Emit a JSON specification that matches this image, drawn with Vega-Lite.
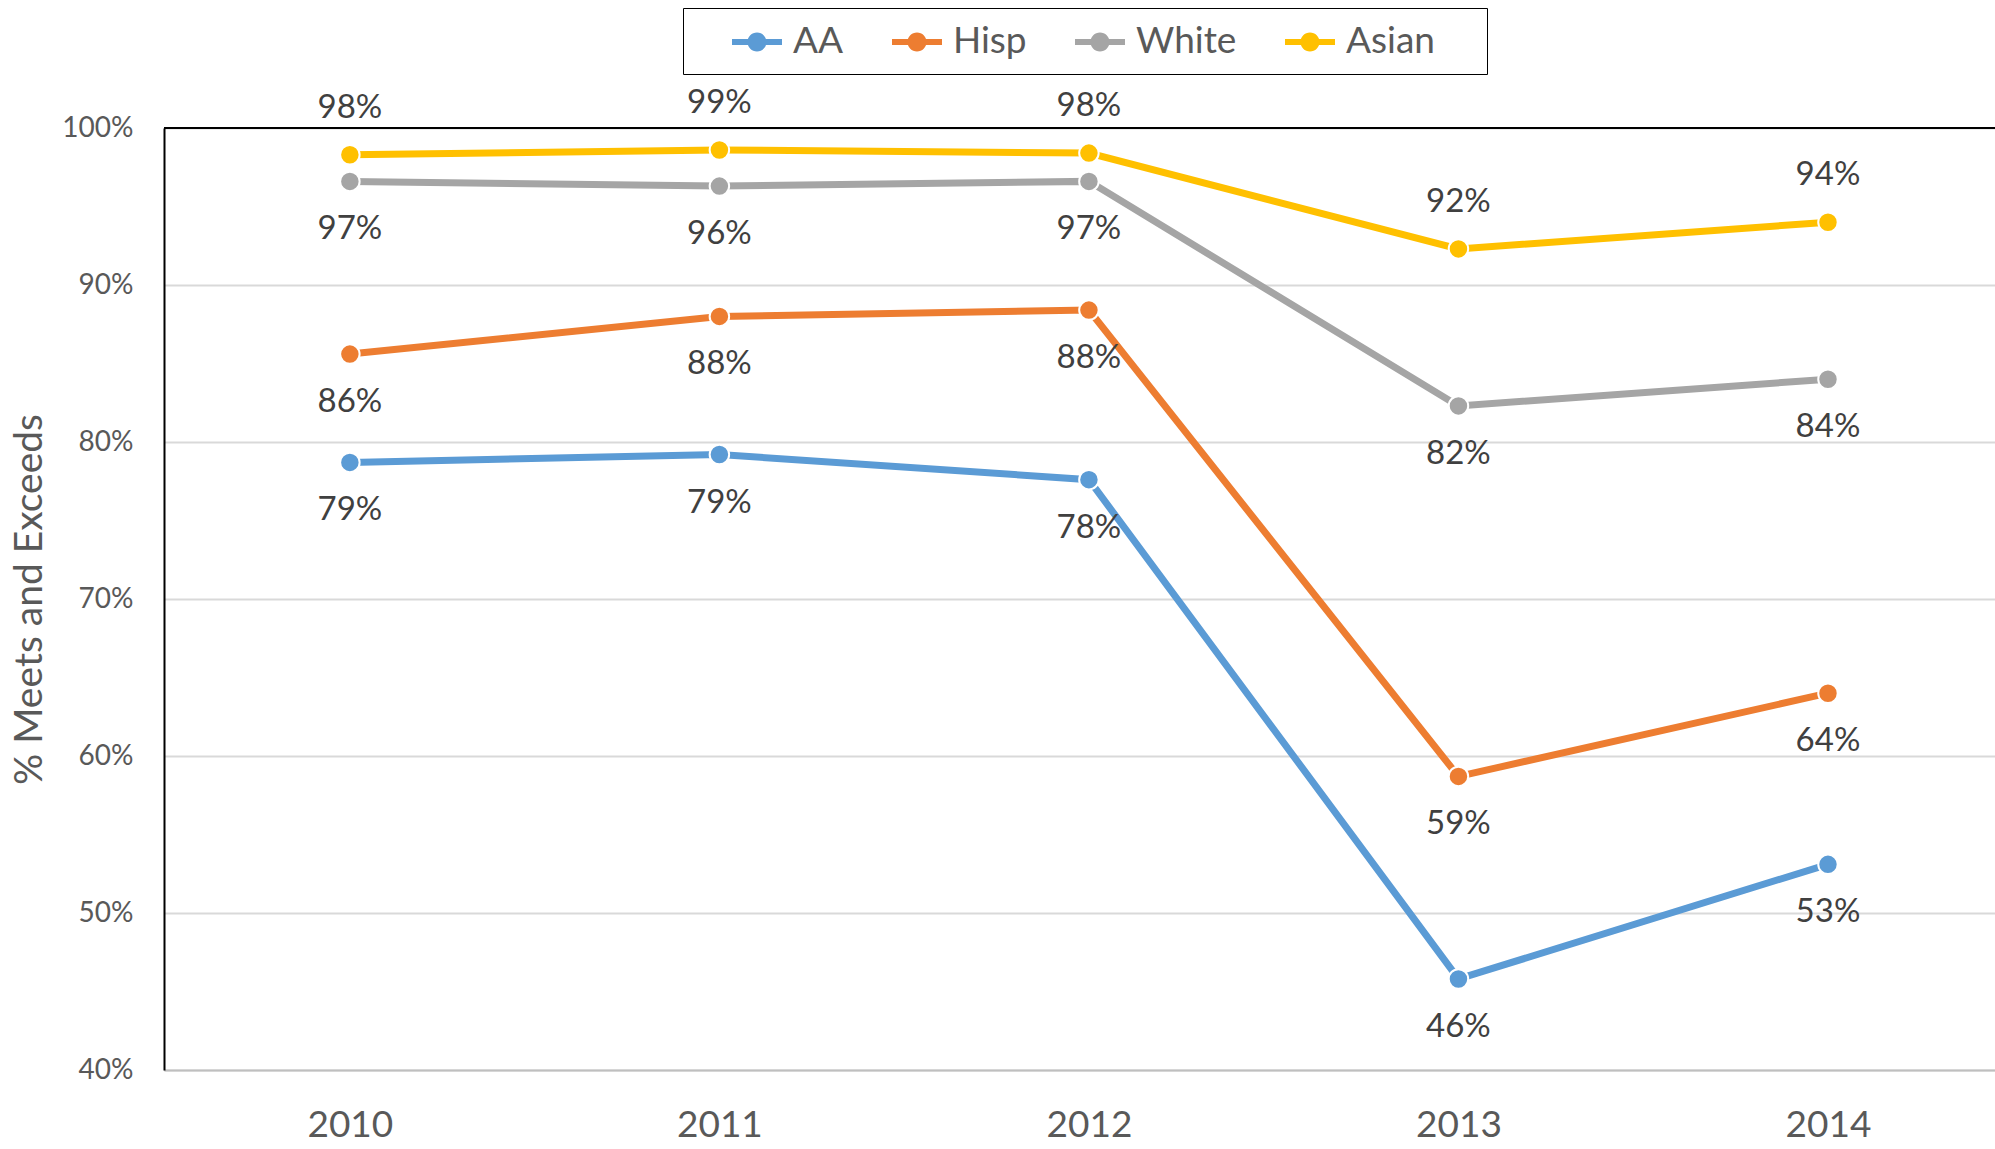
{
  "$schema": "https://vega.github.io/schema/vega-lite/v6.json",
  "width": 1831,
  "height": 942,
  "autosize": {"type": "none"},
  "padding": {"left": 164, "top": 128, "right": 0, "bottom": 79},
  "background": "white",
  "config": {"font": "Lato", "view": {"stroke": null}},
  "data": {
    "values": [
      {"year": 2010, "group": "AA", "value": 0.787},
      {"year": 2011, "group": "AA", "value": 0.792},
      {"year": 2012, "group": "AA", "value": 0.776},
      {"year": 2013, "group": "AA", "value": 0.458},
      {"year": 2014, "group": "AA", "value": 0.531},
      {"year": 2010, "group": "Hisp", "value": 0.856},
      {"year": 2011, "group": "Hisp", "value": 0.880},
      {"year": 2012, "group": "Hisp", "value": 0.884},
      {"year": 2013, "group": "Hisp", "value": 0.587},
      {"year": 2014, "group": "Hisp", "value": 0.640},
      {"year": 2010, "group": "White", "value": 0.966},
      {"year": 2011, "group": "White", "value": 0.963},
      {"year": 2012, "group": "White", "value": 0.966},
      {"year": 2013, "group": "White", "value": 0.823},
      {"year": 2014, "group": "White", "value": 0.840},
      {"year": 2010, "group": "Asian", "value": 0.983},
      {"year": 2011, "group": "Asian", "value": 0.986},
      {"year": 2012, "group": "Asian", "value": 0.984},
      {"year": 2013, "group": "Asian", "value": 0.923},
      {"year": 2014, "group": "Asian", "value": 0.940}
    ]
  },
  "layer": [
    {
      "mark": {"type": "line", "strokeWidth": 7},
      "encoding": {
        "x": {
          "field": "year", "type": "quantitative",
          "scale": {"domain": [2009.497, 2014.452], "nice": false, "zero": false},
          "axis": {
            "values": [2010, 2011, 2012, 2013, 2014], "format": "d", "grid": false, "ticks": false,
            "domainColor": "#bfbfbf", "domainWidth": 2, "labelFontSize": 37, "labelColor": "#595959",
            "labelPadding": 37, "title": null, "labelFlush": false
          }
        },
        "y": {
          "field": "value", "type": "quantitative",
          "scale": {"domain": [0.4, 1.0], "nice": false, "zero": false},
          "axis": {
            "values": [0.4, 0.5, 0.6, 0.7, 0.8, 0.9, 1.0], "format": ".0%",
            "title": "% Meets and Exceeds", "titleFontSize": 39, "titleFontWeight": "normal",
            "titleColor": "#595959", "titlePadding": 12, "labelFontSize": 28, "labelColor": "#595959",
            "labelPadding": 31, "ticks": false, "tickSize": 0, "domainColor": "black", "domainWidth": 2,
            "gridColor": "#d9d9d9", "gridWidth": 2, "labelFlush": false
          }
        },
        "color": {
          "field": "group", "type": "nominal",
          "scale": {"domain": ["AA", "Hisp", "White", "Asian"], "range": ["#5B9BD5", "#ED7D31", "#A5A5A5", "#FFC000"]},
          "legend": {
            "orient": "none", "legendX": 519, "legendY": -120, "direction": "horizontal", "columns": 4,
            "title": "\u00a0", "titleOrient": "right", "titlePadding": 38, "titleFontSize": 36,
            "symbolType": "M-1.25,-0.15H1.25V0.15H-1.25Z M0.475,0A0.475,0.475,0,1,1,-0.475,0A0.475,0.475,0,1,1,0.475,0Z",
            "symbolSize": 1600, "symbolOffset": 40, "labelFontSize": 37, "labelColor": "#595959", "labelOffset": 16,
            "columnPadding": 13, "padding": 14, "strokeColor": "black", "fillColor": "white",
            "symbolStrokeWidth": 0, "symbolOpacity": 1,
            "encode": {"symbols": {"update": {"fill": {"scale": "color", "field": "value"}, "strokeWidth": {"value": 0}}}}
          }
        }
      }
    },
    {
      "mark": {"type": "point", "filled": true, "size": 380, "stroke": "white", "strokeWidth": 2, "opacity": 1},
      "encoding": {
        "x": {"field": "year", "type": "quantitative"},
        "y": {"field": "value", "type": "quantitative"},
        "color": {"field": "group", "type": "nominal"}
      }
    },
    {
      "transform": [{"filter": "datum.group === 'Asian'"}],
      "mark": {"type": "text", "dy": -47, "fontSize": 33, "color": "#404040", "baseline": "middle"},
      "encoding": {
        "x": {"field": "year", "type": "quantitative"},
        "y": {"field": "value", "type": "quantitative"},
        "text": {"field": "value", "format": ".0%"}
      }
    },
    {
      "transform": [{"filter": "datum.group !== 'Asian'"}],
      "mark": {"type": "text", "dy": 48, "fontSize": 33, "color": "#404040", "baseline": "middle"},
      "encoding": {
        "x": {"field": "year", "type": "quantitative"},
        "y": {"field": "value", "type": "quantitative"},
        "text": {"field": "value", "format": ".0%"}
      }
    },
    {
      "data": {"values": [{}]},
      "mark": {"type": "rule", "color": "black", "strokeWidth": 2},
      "encoding": {"y": {"datum": 1}}
    }
  ]
}
